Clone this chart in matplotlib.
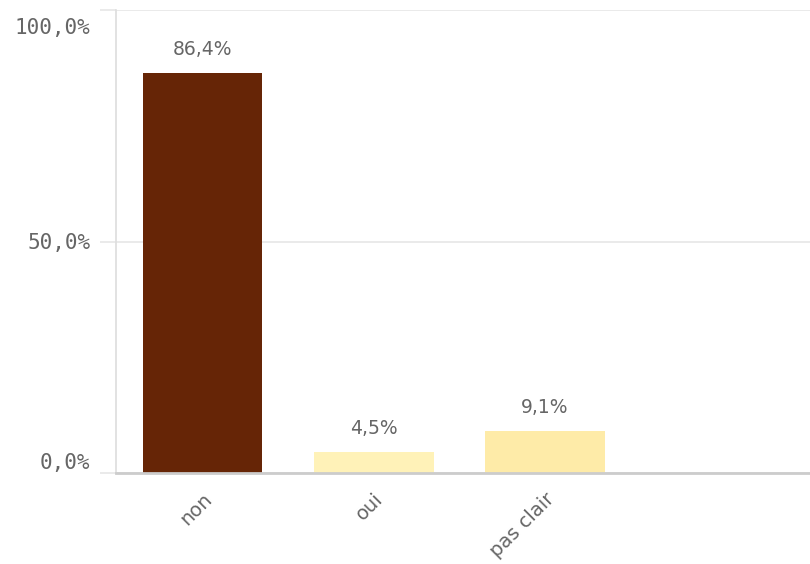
import matplotlib
matplotlib.use("Agg")
import matplotlib.pyplot as plt
from matplotlib.transforms import ScaledTranslation

categories = ["non", "oui", "pas clair"]
values = [86.4, 4.5, 9.1]
colors = ["#662506", "#FFF2B8", "#FEEBA8"]
yticks = [0, 50, 100]
yticklabels = ["0,0%", "50,0%", "100,0%"]

fig = plt.figure(figsize=(8.1, 5.64), dpi=100)
ax = fig.add_axes([116/810, 1 - 473/564, 1 - 116/810, (473 - 10)/564])

x = list(range(len(categories)))
bars = ax.bar(x, values, width=0.7, color=colors, zorder=3)
for xi, v in zip(x, values):
    ax.annotate(f"{v:.1f}%".replace(".", ","), (xi, v), xytext=(0, 10),
                textcoords="offset points", ha="center", va="bottom",
                fontsize=13.5, color="#666666", family="DejaVu Sans")

ax.set_xlim(-0.506, 3.55)
ax.set_ylim(0, 100)
ax.set_yticks(yticks)
ax.set_yticklabels(yticklabels, family="DejaVu Sans Mono", fontsize=15, color="#666666")
ax.tick_params(axis="y", length=11.5, width=1.2, color="#e6e6e6", pad=7)
ylabels = ax.get_yticklabels()
ylabels[0].set_va("bottom")
ylabels[2].set_va("top")
ylabels[2].set_transform(ylabels[2].get_transform()
                         + ScaledTranslation(0, -6/72, fig.dpi_scale_trans))
ax.yaxis.grid(True, color="#e6e6e6", linewidth=1.2, zorder=0)
ax.set_xticks(x)
ax.set_xticklabels(categories, rotation=45, ha="right", va="top", rotation_mode="anchor",
                   fontsize=14, color="#666666", family="DejaVu Sans")
ax.tick_params(axis="x", length=0, pad=12)

for s in ["top", "right"]:
    ax.spines[s].set_visible(False)
ax.spines["left"].set_color("#dddddd")
ax.spines["left"].set_linewidth(1.2)
ax.spines["bottom"].set_color("#cccccc")
ax.spines["bottom"].set_linewidth(2)
ax.spines["bottom"].set_zorder(4)

fig.savefig("out.png", dpi=100)
